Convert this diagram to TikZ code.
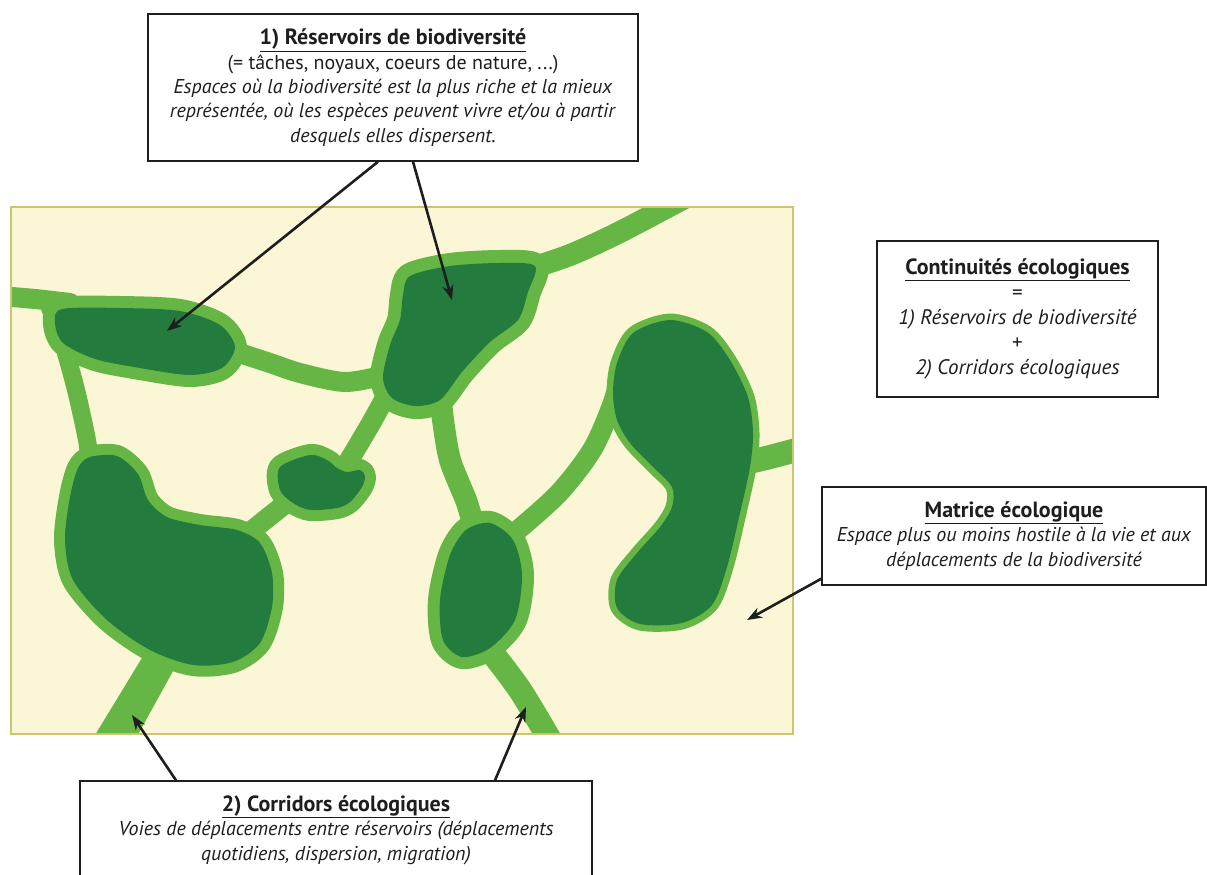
\documentclass[tikz,border=0pt]{standalone}
\usepackage{fontspec}
\setmainfont{PT Sans}
\usetikzlibrary{arrows.meta}
\definecolor{cream}{HTML}{FBF7D6}
\definecolor{mapborder}{HTML}{CBC572}
\definecolor{ltgreen}{HTML}{66B646}
\definecolor{dkgreen}{HTML}{237C3E}
\definecolor{ink}{HTML}{1E1E1E}
\newcommand{\ttl}[1]{{\fontsize{22}{24}\selectfont\underline{\textbf{#1}}}}
\tikzset{
  box/.style={draw=ink, line width=1.4pt, fill=white, text=ink, align=center, inner sep=0pt,
    font=\fontsize{20}{24.3}\selectfont},
  arr/.style={draw=ink, line width=2.6pt, -{Stealth[length=15pt,width=11pt]}},
  corr/.style={draw=ltgreen, line width=#1, line cap=round, line join=round},
  corr/.default=20pt,
  res/.style={fill=dkgreen, preaction={fill=ltgreen, draw=ltgreen, line width=#1, line join=round}},
  res/.default=24pt,
}
\begin{document}
\begin{tikzpicture}[x=1pt,y=-1pt]
\clip (0,0) rectangle (1207,875);
\fill[white] (0,0) rectangle (1207,875);
% map
\fill[cream] (11,207) rectangle (793,734);
\begin{scope}
\clip (11,207) rectangle (793,734);
% corridors
\draw[corr=20pt] plot[smooth] coordinates {(0,296) (35,299) (70,303)};
\draw[corr=18pt] plot[smooth] coordinates {(47,300) (62,340) (76,390) (87,440) (90,465)};
\draw[corr=20pt] plot[smooth] coordinates {(230,350) (270,363) (300,373) (345,382) (385,375)};
\draw[corr=20pt] plot[smooth] coordinates {(392,385) (370,425) (348,462)};
\draw[corr=20pt] plot[smooth] coordinates {(290,500) (265,520) (240,540)};
\draw[corr=22pt] plot[smooth] coordinates {(441,400) (443,420) (450,460) (466,500) (472,520)};
\draw[corr=22pt] plot[smooth] coordinates {(525,270) (570,255) (620,232) (690,195)};
\draw[corr=20pt] plot[smooth] coordinates {(512,535) (558,494) (592,450) (612,405) (622,370)};
\draw[corr=24pt] plot[smooth] coordinates {(745,463) (770,457) (800,449)};
\draw[corr=24pt] plot[smooth] coordinates {(490,650) (520,690) (550,740)};
\fill[ltgreen] (148,648) -- (178,662) -- (135,740) -- (92,740) -- cycle;
% reservoirs
\path[res=24pt] plot[smooth cycle] coordinates {(62,309) (120,308) (180,311) (220,325) (235,347) (222,368) (190,375) (140,368) (95,359) (63,343) (55,323)};
\path[res=26pt] plot[smooth cycle] coordinates {(410,276) (450,266) (500,263) (535,266) (528,292) (518,320) (490,342) (462,372) (440,400) (415,406) (392,398) (383,378) (390,345) (400,320) (403,295)};
\path[res=22pt] plot[smooth cycle] coordinates {(90,457) (117,456) (138,474) (148,500) (167,517) (200,525) (237,530) (260,543) (272,573) (272,607) (260,643) (233,662) (193,665) (150,650) (107,620) (73,580) (65,540) (70,497) (78,468)};
\path[res=22pt] plot[smooth cycle] coordinates {(280,467) (310,455) (327,460) (337,468) (347,472) (360,470) (365,476) (362,487) (350,502) (337,508) (310,510) (293,503) (280,490)};
\path[res=24pt] plot[smooth cycle] coordinates {(490,523) (513,540) (522,575) (515,620) (490,648) (462,657) (443,640) (440,600) (450,555) (466,530)};
\path[res=13pt] plot[smooth cycle] coordinates {(670,320) (707,332) (730,360) (748,397) (753,433) (750,467) (740,513) (727,567) (712,605) (682,623) (640,624) (617,608) (617,580) (637,553) (660,527) (672,507) (672,487) (653,467) (630,443) (617,420) (613,393) (617,363) (633,333)};
\end{scope}
\draw[mapborder, line width=1.5pt] (11,207) rectangle (793,734);
% boxes
\node[box, minimum width=490pt, minimum height=147pt] (b1) at (393,87.5) {%
\ttl{1) Réservoirs de biodiversité}\\
(= tâches, noyaux, coeurs de nature, ...)\\
\textit{Espaces où la biodiversité est la plus riche et la mieux}\\
\textit{représentée, où les espèces peuvent vivre et/ou à partir}\\
\textit{desquels elles dispersent.}};
\node[box, minimum width=281pt, minimum height=156pt, font=\fontsize{21}{25}\selectfont] (bk) at (1017.5,319) {%
\ttl{Continuités écologiques}\\
=\\
\textit{1) Réservoirs de biodiversité}\\
+\\
\textit{2) Corridors écologiques}};
\node[box, minimum width=384pt, minimum height=98pt] (bm) at (1014,536) {%
\ttl{Matrice écologique}\\
\textit{Espace plus ou moins hostile à la vie et aux}\\
\textit{déplacements de la biodiversité}};
\node[box, minimum width=512pt, minimum height=98pt] (bc) at (336,830) {%
\ttl{2) Corridors écologiques}\\
\textit{Voies de déplacements entre réservoirs (déplacements}\\
\textit{quotidiens, dispersion, migration)}};
% arrow targets
\coordinate (t1) at (167,331);
\coordinate (t2) at (452,300);
\coordinate (t3) at (747,620);
\coordinate (t4) at (132,715);
\coordinate (t5) at (526,707);
\draw[arr] ([xshift=-15pt]b1.south) -- (t1);
\draw[arr] ([xshift=20pt]b1.south) -- (t2);
\draw[arr] ([yshift=7pt]bm.south west) -- (t3);
\draw[arr] ([xshift=-160pt]bc.north) -- (t4);
\draw[arr] ([xshift=159pt]bc.north) -- (t5);
\end{tikzpicture}
\end{document}
